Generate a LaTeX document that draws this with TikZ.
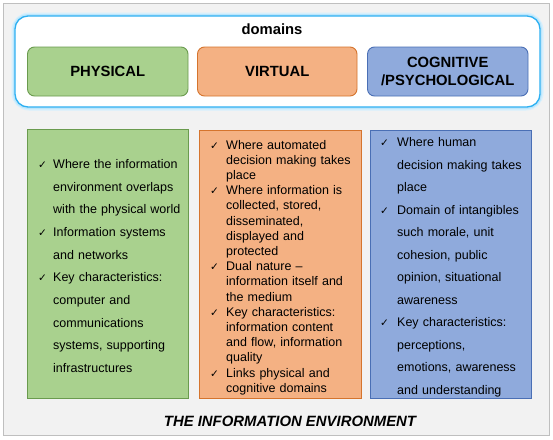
\documentclass[tikz,border=0pt]{standalone}
\usepackage{fontspec}
\setmainfont{Liberation Sans}
\newfontfamily\dvfont{DejaVu Sans}
\definecolor{bgfill}{HTML}{F2F2F2}
\definecolor{bgline}{HTML}{BFBFBF}
\definecolor{glow}{HTML}{2DB0F2}
\definecolor{glowsoft}{HTML}{BDE6FB}
\definecolor{gfill}{HTML}{A9D18E}
\definecolor{gline}{HTML}{6A9B4E}
\definecolor{ofill}{HTML}{F4B183}
\definecolor{oline}{HTML}{D5742D}
\definecolor{bfill}{HTML}{8FAADC}
\definecolor{bline}{HTML}{4A6FB5}
\newlength\ckind
\newcommand{\ck}{\makebox[\ckind][l]{\dvfont\fontsize{10.5}{10}\selectfont ✓}}
\newcommand{\ci}{\hspace*{\ckind}}
\tikzset{
  headbox/.style={rounded corners=7pt, line width=0.9pt},
  listbox/.style={line width=0.9pt},
  headtext/.style={font=\fontsize{14.8}{17}\selectfont\bfseries, align=center},
  looselist/.style={font=\fontsize{12.5}{22.67}\selectfont, align=left, inner sep=0pt, anchor=base west, text width=175pt},
  tightlist/.style={font=\fontsize{12.5}{15.2}\selectfont, align=left, inner sep=0pt, anchor=base west, text width=175pt},
}
\begin{document}
\begin{tikzpicture}[x=1pt,y=-1pt]
\useasboundingbox (0,0) rectangle (553,439);
% background
\draw[bgline, fill=bgfill, line width=0.8pt] (3.5,3) rectangle (549.5,435);
% domains box
\draw[glowsoft!60, line width=7pt, rounded corners=14pt] (15,16) rectangle (540,107);
\draw[glowsoft, line width=4pt, rounded corners=13pt] (15,16) rectangle (540,107);
\draw[glow, fill=white, line width=1.3pt, rounded corners=13pt] (15,16) rectangle (540,107);
\node[font=\fontsize{14.8}{17}\selectfont\bfseries] (domt) at (272,29.5) {domains};
% head boxes
\draw[headbox, gline, fill=gfill] (27.5,47) rectangle (188,96);
\node[headtext] (phys) at (107.7,71.5) {PHYSICAL};
\draw[headbox, oline, fill=ofill] (197.5,47) rectangle (357,96);
\node[headtext] (virt) at (277.3,71.5) {VIRTUAL};
\draw[headbox, bline, fill=bfill] (367.5,47) rectangle (528,96);
\node[headtext, font=\fontsize{14.8}{18.5}\selectfont\bfseries] (cogn) at (447.7,71.5) {COGNITIVE\\/PSYCHOLOGICAL};
% list boxes
\draw[listbox, gline, fill=gfill] (27,129) rectangle (188,398);
\draw[listbox, oline, fill=ofill] (199,130) rectangle (361,398);
\draw[listbox, bline, fill=bfill] (370,130) rectangle (531,398);
% green list
\node[looselist] (gtext) at (38,168.5) {\setlength\ckind{15pt}%
\ck Where the information\\
\ci environment overlaps\\
\ci with the physical world\\
\ck Information systems\\
\ci and networks\\
\ck Key characteristics:\\
\ci computer and\\
\ci communications\\
\ci systems, supporting\\
\ci infrastructures};
% orange list
\node[tightlist] (otext) at (210,149) {\setlength\ckind{16pt}%
\ck Where automated\\
\ci decision making takes\\
\ci place\\
\ck Where information is\\
\ci collected, stored,\\
\ci disseminated,\\
\ci displayed and\\
\ci protected\\
\ck Dual nature --\\
\ci information itself and\\
\ci the medium\\
\ck Key characteristics:\\
\ci information content\\
\ci and flow, information\\
\ci quality\\
\ck Links physical and\\
\ci cognitive domains};
% blue list
\node[looselist, font=\fontsize{12.5}{22.5}\selectfont] (btext) at (380,146.5) {\setlength\ckind{17pt}%
\ck Where human\\
\ci decision making takes\\
\ci place\\
\ck Domain of intangibles\\
\ci such morale, unit\\
\ci cohesion, public\\
\ci opinion, situational\\
\ci awareness\\
\ck Key characteristics:\\
\ci perceptions,\\
\ci emotions, awareness\\
\ci and understanding};
% footer
\node[font=\fontsize{14.9}{17}\selectfont\bfseries\itshape] (foot) at (290,421.5) {THE INFORMATION ENVIRONMENT};
\end{tikzpicture}
\end{document}
